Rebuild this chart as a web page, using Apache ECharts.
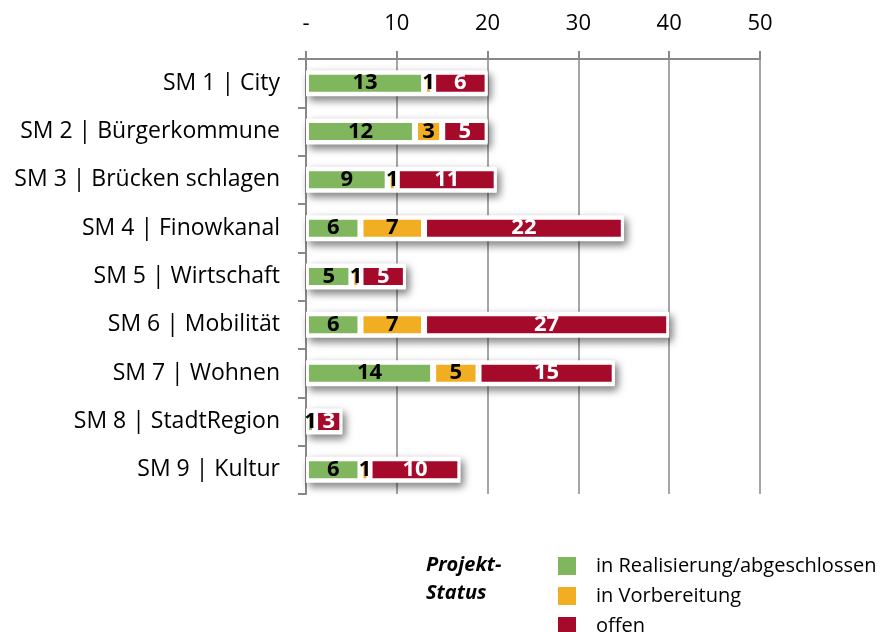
<!DOCTYPE html>
<html>
<head>
<meta charset="utf-8">
<script src="https://cdn.jsdelivr.net/npm/echarts@6/dist/echarts.min.js"></script>
<style>
  html, body { margin: 0; padding: 0; background: #fff; }
  #chart { width: 895px; height: 632px; }
</style>
</head>
<body>
<div id="chart"></div>
<script>
var categories = ['SM 1 | City', 'SM 2 | Bürgerkommune', 'SM 3 | Brücken schlagen', 'SM 4 | Finowkanal',
    'SM 5 | Wirtschaft', 'SM 6 | Mobilität', 'SM 7 | Wohnen', 'SM 8 | StadtRegion', 'SM 9 | Kultur'];
var realisiert = [13, 12, 9, 6, 5, 6, 14, 1, 6];
var vorbereitung = [1, 3, 1, 7, 1, 7, 5, 0, 1];
var offen = [6, 5, 11, 22, 5, 27, 15, 3, 10];
var seriesNames = ['in Realisierung/abgeschlossen', 'in Vorbereitung', 'offen'];

// Summe je Kategorie fuer den weissen Hintergrundbalken
var totals = categories.map(function (c, i) {
    return realisiert[i] + vorbereitung[i] + offen[i];
});

var fontFamily = '"Open Sans", sans-serif';
var colors = ['#80b75e', '#f2ae22', '#a60a2b'];

var myChart = echarts.init(document.getElementById('chart'));

var makeSeries = function (name, data, color, labelColor) {
    return {
        name: name,
        type: 'bar',
        stack: 'status',
        yAxisIndex: 0,
        barWidth: 23,
        data: data,
        z: 3,
        itemStyle: { color: color, borderColor: '#fff', borderWidth: 3 },
        label: {
            show: true,
            position: 'inside',
            color: labelColor,
            fontFamily: fontFamily,
            fontWeight: 'bold',
            fontSize: 22,
            formatter: function (p) { return p.value === 0 ? '' : p.value; }
        }
    };
};

var option = {
    animation: false,
    title: {
        text: 'Projekt-\nStatus',
        left: 426,
        top: 551,
        padding: 0,
        textStyle: {
            fontFamily: fontFamily,
            fontSize: 20,
            fontWeight: 'bold',
            fontStyle: 'italic',
            color: '#000',
            lineHeight: 28
        }
    },
    legend: {
        data: seriesNames,
        orient: 'vertical',
        left: 556,
        top: 555,
        height: 120,
        padding: 0,
        itemWidth: 20,
        itemHeight: 20,
        itemGap: 8,
        icon: 'rect',
        textStyle: { fontFamily: fontFamily, fontSize: 20, lineHeight: 20, color: '#000', padding: [0, 0, 0, 14] }
    },
    grid: { left: 306, right: 135, top: 59, bottom: 138 },
    xAxis: {
        type: 'value',
        position: 'top',
        min: 0,
        max: 50,
        interval: 10,
        axisLine: { show: true, lineStyle: { color: '#888', width: 2 } },
        axisTick: { show: true, length: 8, lineStyle: { color: '#888', width: 2 } },
        splitLine: { show: true, lineStyle: { color: '#888', width: 1.5 } },
        axisLabel: {
            margin: 24,
            color: '#000',
            fontFamily: fontFamily,
            fontSize: 22,
            formatter: function (v) { return v === 0 ? '-' : v; }
        }
    },
    yAxis: [{
        type: 'category',
        data: categories,
        inverse: true,
        axisLine: { show: true, lineStyle: { color: '#888', width: 2 } },
        axisTick: { show: true, length: 8, lineStyle: { color: '#888', width: 2 } },
        axisLabel: { margin: 26, color: '#000', fontFamily: fontFamily, fontSize: 23 }
    }, {
        type: 'category',
        data: categories,
        inverse: true,
        show: false
    }],
    series: [{
        name: 'hintergrund',
        type: 'bar',
        yAxisIndex: 1,
        barWidth: 26,
        data: totals,
        silent: true,
        z: 2,
        itemStyle: {
            color: '#fff',
            borderColor: '#fff',
            borderWidth: 5,
            shadowColor: 'rgba(0,0,0,0.45)',
            shadowBlur: 8,
            shadowOffsetX: 3,
            shadowOffsetY: 4
        }
    },
        makeSeries(seriesNames[0], realisiert, colors[0], '#000'),
        makeSeries(seriesNames[1], vorbereitung, colors[1], '#000'),
        makeSeries(seriesNames[2], offen, colors[2], '#fff')
    ]
};

myChart.setOption(option);
</script>
</body>
</html>
